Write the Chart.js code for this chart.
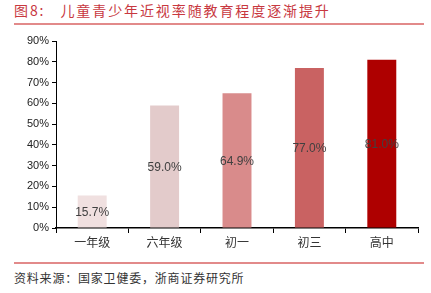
<!DOCTYPE html>
<html>
<head>
<meta charset="utf-8">
<script src="https://cdn.jsdelivr.net/npm/chart.js@4"></script>
<style>
  body { margin: 0; width: 431px; height: 293px; background: #fff; position: relative; overflow: hidden; }
  .title { position: absolute; left: 14px; top: 0px; font: 14px "Noto Sans CJK SC"; color: #c8383f; letter-spacing: 1.9px; white-space: nowrap; }
  .line { position: absolute; left: 14px; width: 410px; height: 2px; background: #e28a8a; }
  .source { position: absolute; left: 14px; top: 269px; font: 12px "Noto Sans CJK SC"; color: #333; letter-spacing: 0.8px; white-space: nowrap; }
  #wrap { position: absolute; left: 0; top: 30px; width: 431px; height: 225px; }
</style>
</head>
<body>
<div class="title">图8:&nbsp;&nbsp;&nbsp;儿童青少年近视率随教育程度逐渐提升</div>
<div class="line" style="top:23px"></div>
<div id="wrap"><canvas id="barChart"></canvas></div>
<div class="line" style="top:262px"></div>
<div class="source">资料来源：国家卫健委，浙商证券研究所</div>
<script>
// data
const categories = ['一年级', '六年级', '初一', '初三', '高中'];
const myopiaRate = [15.7, 59.0, 64.9, 77.0, 81.0];
const barColors = ['#f0e0e0', '#e3cbcb', '#d98b8b', '#c96262', '#ae0000'];
const yTicks = [0, 10, 20, 30, 40, 50, 60, 70, 80, 90];

// draw value labels in the middle of each bar
const midLabels = {
    id: 'midLabels',
    afterDatasetsDraw(chart) {
        const ctx = chart.ctx;
        const meta = chart.getDatasetMeta(0);
        ctx.save();
        ctx.font = '12px "Liberation Sans", Arial';
        ctx.fillStyle = '#404040';
        ctx.textAlign = 'center';
        ctx.textBaseline = 'middle';
        meta.data.forEach(function (bar, i) {
            ctx.fillText(myopiaRate[i].toFixed(1) + '%', bar.x, (bar.y + bar.base) / 2 + 1);
        });
        ctx.restore();
    }
};

let ctx2 = document.getElementById('barChart').getContext('2d');
let barChart = new Chart(ctx2, {
    type: 'bar',
    data: {
        labels: categories,
        datasets: [{
            data: myopiaRate,
            backgroundColor: barColors,
            categoryPercentage: 0.4,
            barPercentage: 1.0
        }]
    },
    options: {
        responsive: true,
        maintainAspectRatio: false,
        animation: false,
        layout: { padding: { top: 11, right: 13, left: 0, bottom: 0 } },
        plugins: {
            legend: { display: false },
            tooltip: { enabled: false }
        },
        scales: {
            y: {
                min: 0,
                max: 90,
                afterFit(scale) { scale.width = 56; },
                afterBuildTicks(scale) { scale.ticks = yTicks.map(v => ({ value: v })); },
                ticks: {
                    callback: v => v + '%',
                    color: '#222',
                    font: { family: '"Liberation Sans", Arial', size: 11 },
                    padding: 3
                },
                grid: { drawOnChartArea: false, tickLength: 4, color: '#000' },
                border: { color: '#000', width: 1 }
            },
            x: {
                afterFit(scale) { scale.height = 27; },
                ticks: {
                    color: '#333',
                    font: { family: '"Noto Sans CJK SC"', size: 12 },
                    padding: 2
                },
                grid: { drawOnChartArea: false, tickLength: 5, color: '#000', offset: true },
                border: { color: '#000', width: 1.5 }
            }
        }
    },
    plugins: [midLabels]
});
</script>
</body>
</html>
